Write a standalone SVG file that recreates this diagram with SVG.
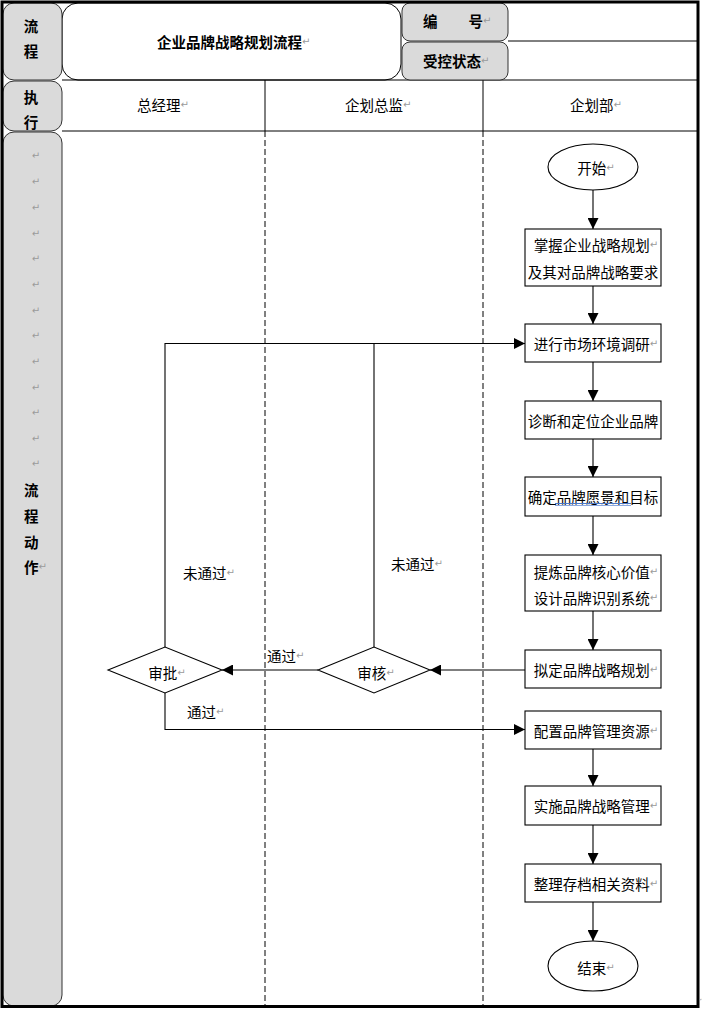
<svg xmlns="http://www.w3.org/2000/svg" width="702" height="1010" viewBox="0 0 702 1010">
<defs>
<style>
text{font-family:"Noto Sans CJK SC","Liberation Sans",sans-serif;font-size:14.5px;fill:#000;dominant-baseline:central}
.b{font-weight:bold}
.m{text-anchor:middle}
.r{font-family:"DejaVu Sans",sans-serif;font-size:10px;fill:#9a9a9a;font-weight:normal}
.gray{fill:#dadada;stroke:#333;stroke-width:1}
.cell{fill:none;stroke:#000;stroke-width:1}
.dash{stroke:#000;stroke-width:1;stroke-dasharray:6,3;fill:none}
.node{fill:#fff;stroke:#000;stroke-width:1.1}
.conn{fill:none;stroke:#000;stroke-width:1.1}
</style>
<marker id="ah" viewBox="0 0 10 10" refX="10" refY="5" markerWidth="11" markerHeight="11" markerUnits="userSpaceOnUse" orient="auto">
<path d="M0,0 L10,5 L0,10 z" fill="#000"/>
</marker>
</defs>
<rect x="0" y="0" width="702" height="1010" fill="#fff"/>

<g id="frame">
<rect x="62" y="3" width="339" height="77" rx="16" fill="#fff" stroke="#000" stroke-width="1"/>
<line class="cell" x1="62" y1="80" x2="698" y2="80"/>
<line class="cell" x1="508" y1="41" x2="698" y2="41"/>
<line class="cell" x1="62" y1="131" x2="698" y2="131"/>
<line class="cell" x1="265" y1="80" x2="265" y2="131"/>
<line class="cell" x1="483" y1="80" x2="483" y2="131"/>
<line class="dash" x1="265" y1="131" x2="265" y2="1006"/>
<line class="dash" x1="483" y1="131" x2="483" y2="1006"/>
<rect class="gray" x="3" y="3" width="59" height="77" rx="11"/>
<rect class="gray" x="3" y="81" width="59" height="50" rx="11"/>
<rect class="gray" x="3" y="132" width="59" height="874" rx="11"/>
<rect class="gray" x="402" y="3" width="106" height="38" rx="8"/>
<rect class="gray" x="402" y="42" width="106" height="38" rx="8"/>
<rect x="2" y="2" width="696" height="1004.5" fill="none" stroke="#000" stroke-width="3"/>
</g>

<g id="header-text">
<text class="b m" x="31" y="25">流</text>
<text class="b m" x="31" y="50">程</text>
<text class="b m" x="31" y="96">执</text>
<text class="b m" x="31" y="121">行</text>
<text class="b" x="157" y="41">企业品牌战略规划流程<tspan class="r">↵</tspan></text>
<text class="b" x="423" y="20">编<tspan dx="31">号</tspan><tspan class="r">↵</tspan></text>
<text class="b" x="423" y="60">受控状态<tspan class="r">↵</tspan></text>
<text x="137" y="104">总经理<tspan class="r">↵</tspan></text>
<text x="345" y="104">企划总监<tspan class="r">↵</tspan></text>
<text x="570" y="104">企划部<tspan class="r">↵</tspan></text>
</g>

<g id="left-label">
<text class="r m" x="36" y="155">↵</text>
<text class="r m" x="36" y="181">↵</text>
<text class="r m" x="36" y="207">↵</text>
<text class="r m" x="36" y="233">↵</text>
<text class="r m" x="36" y="258">↵</text>
<text class="r m" x="36" y="284">↵</text>
<text class="r m" x="36" y="310">↵</text>
<text class="r m" x="36" y="335">↵</text>
<text class="r m" x="36" y="361">↵</text>
<text class="r m" x="36" y="387">↵</text>
<text class="r m" x="36" y="412">↵</text>
<text class="r m" x="36" y="438">↵</text>
<text class="r m" x="36" y="463">↵</text>
<text class="b" x="24" y="489">流</text>
<text class="b" x="24" y="515">程</text>
<text class="b" x="24" y="541">动</text>
<text class="b" x="24" y="566">作<tspan class="r">↵</tspan></text>
</g>

<g id="connectors">
<line class="conn" x1="593" y1="190" x2="593" y2="229" marker-end="url(#ah)"/>
<line class="conn" x1="593" y1="286" x2="593" y2="324" marker-end="url(#ah)"/>
<line class="conn" x1="593" y1="362" x2="593" y2="401" marker-end="url(#ah)"/>
<line class="conn" x1="593" y1="439" x2="593" y2="477" marker-end="url(#ah)"/>
<line class="conn" x1="593" y1="516" x2="593" y2="555" marker-end="url(#ah)"/>
<line class="conn" x1="593" y1="611" x2="593" y2="650" marker-end="url(#ah)"/>
<line class="conn" x1="593" y1="749" x2="593" y2="786" marker-end="url(#ah)"/>
<line class="conn" x1="593" y1="825" x2="593" y2="864" marker-end="url(#ah)"/>
<line class="conn" x1="593" y1="902" x2="593" y2="941" marker-end="url(#ah)"/>
<line class="conn" x1="525" y1="670" x2="430" y2="670" marker-end="url(#ah)"/>
<line class="conn" x1="318" y1="670" x2="222" y2="670" marker-end="url(#ah)"/>
<polyline class="conn" points="165,647 165,343.5 525,343.5" marker-end="url(#ah)"/>
<line class="conn" x1="374" y1="647" x2="374" y2="343.5"/>
<polyline class="conn" points="165,693 165,729.5 525,729.5" marker-end="url(#ah)"/>
<text x="183" y="572">未通过<tspan class="r">↵</tspan></text>
<text x="391" y="563">未通过<tspan class="r">↵</tspan></text>
<text x="267" y="655">通过<tspan class="r">↵</tspan></text>
<text x="187" y="711">通过<tspan class="r">↵</tspan></text>
</g>

<g id="start">
<ellipse class="node" cx="593" cy="167" rx="45" ry="23"/>
<text class="m" x="596" y="167">开始<tspan class="r">↵</tspan></text>
</g>
<g id="n1">
<rect class="node" x="525" y="229" width="136" height="57"/>
<text class="m" x="596" y="244">掌握企业战略规划<tspan class="r">↵</tspan></text>
<text class="m" x="593" y="271">及其对品牌战略要求</text>
</g>
<g id="n2">
<rect class="node" x="525" y="324" width="136" height="38"/>
<text class="m" x="596" y="343">进行市场环境调研<tspan class="r">↵</tspan></text>
</g>
<g id="n3">
<rect class="node" x="525" y="401" width="136" height="38"/>
<text class="m" x="593" y="420">诊断和定位企业品牌</text>
</g>
<g id="n4">
<rect class="node" x="525" y="477" width="136" height="39"/>
<text class="m" x="593" y="496">确定品牌愿景和目标</text>
<line x1="555" y1="503.5" x2="631" y2="503.5" stroke="#4a78c8" stroke-width="1"/>
<line x1="555" y1="505.5" x2="631" y2="505.5" stroke="#8aa8e0" stroke-width="1"/>
</g>
<g id="n5">
<rect class="node" x="525" y="555" width="136" height="56"/>
<text class="m" x="596" y="571">提炼品牌核心价值<tspan class="r">↵</tspan></text>
<text class="m" x="596" y="597">设计品牌识别系统<tspan class="r">↵</tspan></text>
</g>
<g id="n6">
<rect class="node" x="525" y="650" width="136" height="38"/>
<text class="m" x="596" y="669">拟定品牌战略规划<tspan class="r">↵</tspan></text>
</g>
<g id="d1">
<polygon class="node" points="318,670 374,647 430,670 374,693"/>
<text class="m" x="376" y="672">审核<tspan class="r">↵</tspan></text>
</g>
<g id="d2">
<polygon class="node" points="108,670 165,647 222,670 165,693"/>
<text class="m" x="167" y="672">审批<tspan class="r">↵</tspan></text>
</g>
<g id="n7">
<rect class="node" x="525" y="711" width="136" height="38"/>
<text class="m" x="596" y="730">配置品牌管理资源<tspan class="r">↵</tspan></text>
</g>
<g id="n8">
<rect class="node" x="525" y="786" width="136" height="39"/>
<text class="m" x="596" y="805">实施品牌战略管理<tspan class="r">↵</tspan></text>
</g>
<g id="n9">
<rect class="node" x="525" y="864" width="136" height="38"/>
<text class="m" x="596" y="883">整理存档相关资料<tspan class="r">↵</tspan></text>
</g>
<g id="end">
<ellipse class="node" cx="593" cy="966" rx="45" ry="25"/>
<text class="m" x="596" y="967">结束<tspan class="r">↵</tspan></text>
</g>
<text class="r" x="699.5" y="999" style="font-size:4.5px">↵</text>
</svg>
